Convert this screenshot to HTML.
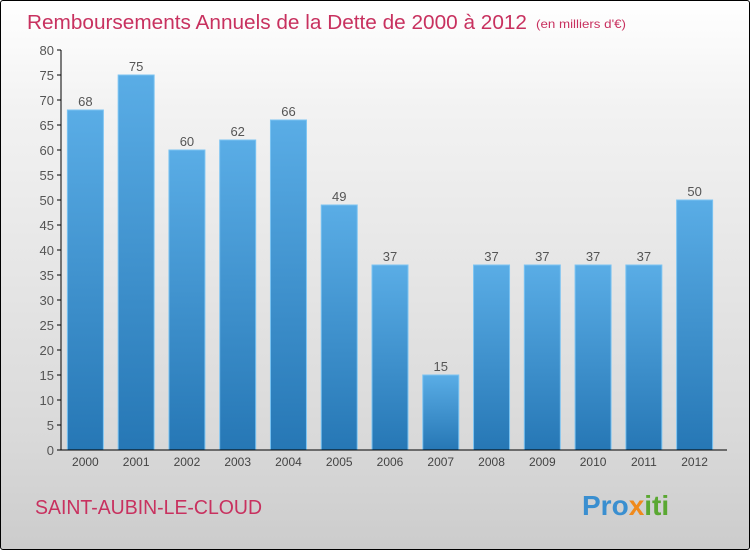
<!DOCTYPE html>
<html><head><meta charset="utf-8"><style>
html,body{margin:0;padding:0}
body{width:750px;height:550px;overflow:hidden;font-family:"Liberation Sans",sans-serif}
#wrap{position:absolute;left:0;top:0;width:748px;height:548px;border:1px solid #000;border-radius:3px;background:linear-gradient(#ffffff,#f2f2f2 20%,#d9d9d9 80%,#cccccc)}
</style></head><body>
<div id="wrap">
<svg id="chart" width="750" height="550" style="position:absolute;left:-1px;top:-1px">
<defs><linearGradient id="bg" x1="0" y1="0" x2="0" y2="1"><stop offset="0" stop-color="#5aade6"/><stop offset="1" stop-color="#2677b5"/></linearGradient></defs>
<text x="27" y="29" font-size="20.5" fill="#c8315f" textLength="500" lengthAdjust="spacingAndGlyphs">Remboursements Annuels de la Dette de 2000 à 2012</text>
<text x="536" y="28" font-size="12" fill="#c8315f" textLength="90" lengthAdjust="spacingAndGlyphs">(en milliers d'€)</text>
<text x="35" y="514" font-size="20" fill="#c8315f" textLength="227" lengthAdjust="spacingAndGlyphs">SAINT-AUBIN-LE-CLOUD</text>
<text x="582" y="515" font-size="28" font-weight="bold"><tspan fill="#3a8fd0">Pro</tspan><tspan fill="#f08a1c">x</tspan><tspan fill="#5aa832">iti</tspan></text>
</svg>
</div>
<script>
const categories=["2000","2001","2002","2003","2004","2005","2006","2007","2008","2009","2010","2011","2012"];
const values=[68,75,60,62,66,49,37,15,37,37,37,37,50];
const yTicks=[0,5,10,15,20,25,30,35,40,45,50,55,60,65,70,75,80];
const svg=document.getElementById('chart');
const NS='http://www.w3.org/2000/svg';
const x0=61,x1=721,y0=450,yMax=80,pxPer=5;
const band=(x1-x0)/categories.length;
function y(v){return y0-v*pxPer;}
function xc(i){return x0+band*(i+0.5);}
function mk(t,a){const e=document.createElementNS(NS,t);for(const k in a)e.setAttribute(k,a[k]);svg.appendChild(e);return e;}
yTicks.forEach(t=>{
 const l=mk('line',{x1:57,x2:x0,y1:y(t),y2:y(t),stroke:'#000'});
 
 
 const tx=mk('text',{x:54,y:y(t)+5,'text-anchor':'end','font-size':13,fill:'#555'});
 tx.textContent=t;
 
 
});
values.forEach((v,i)=>{
 const w=36;
 const r=mk('rect',{x:xc(i)-w/2-1,y:y(v),width:w,height:v*pxPer,fill:'url(#bg)',stroke:'#7cc4f2','stroke-width':1});
 
 
 const t=mk('text',{x:xc(i)-1,y:y(v)-4,'text-anchor':'middle','font-size':13,fill:'#555'});
 t.textContent=v;
 
 
 const c=mk('text',{x:xc(i)-1,y:y0+16,'text-anchor':'middle','font-size':12,fill:'#444'});
 c.textContent=categories[i];
 
 
});
const ya=mk('line',{x1:x0,x2:x0,y1:y(yMax),y2:y0,stroke:'#000'});


const xa=mk('line',{x1:x0,x2:x1+6,y1:y0,y2:y0,stroke:'#000'});


</script>
</body></html>
